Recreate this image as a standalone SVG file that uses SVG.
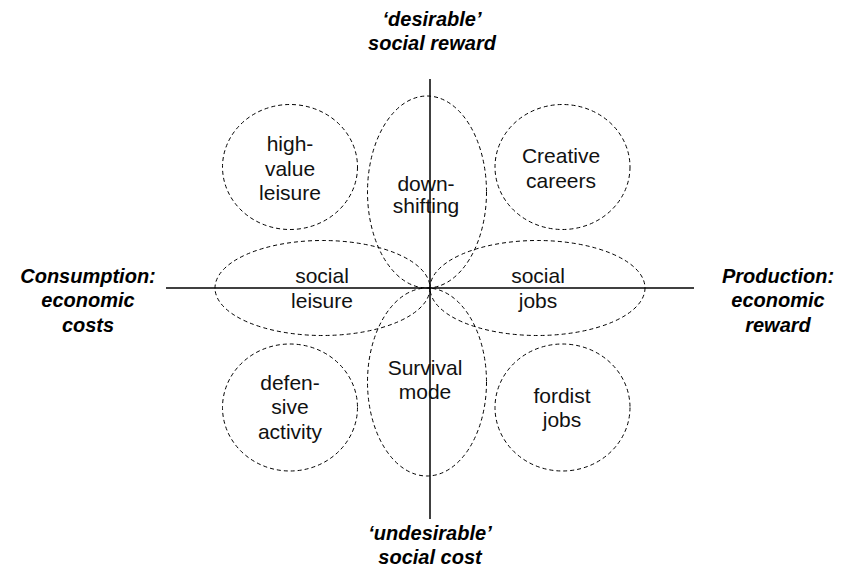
<svg xmlns="http://www.w3.org/2000/svg" width="844" height="570" viewBox="0 0 844 570">
<style>
.bg{fill:#fff}
.axis{stroke:#000;stroke-width:1.5;fill:none}
.d{stroke:#000;stroke-width:1;fill:none;stroke-dasharray:4 3}
.t{font-family:"Liberation Sans",Arial,sans-serif;font-size:21px;fill:#111;text-anchor:middle}
.a{font-family:"Liberation Sans",Arial,sans-serif;font-size:20px;font-weight:bold;font-style:italic;fill:#000;text-anchor:middle}
</style>
<rect class="bg" x="0" y="0" width="844" height="570"/>
<g id="connectors">
<line class="axis" x1="166" y1="288" x2="694" y2="288"/>
<line class="axis" x1="430" y1="79" x2="430" y2="519"/>
</g>
<g id="axis-top"><text class="a" x="432" y="26">‘desirable’</text><text class="a" x="432" y="50">social reward</text></g>
<g id="axis-bottom"><text class="a" x="430" y="540">‘undesirable’</text><text class="a" x="430" y="564">social cost</text></g>
<g id="axis-left"><text class="a" x="88" y="283">Consumption:</text><text class="a" x="88" y="307">economic</text><text class="a" x="88" y="332">costs</text></g>
<g id="axis-right"><text class="a" x="778" y="283">Production:</text><text class="a" x="778" y="307">economic</text><text class="a" x="778" y="332">reward</text></g>
<g id="high-value-leisure"><ellipse class="d" cx="290" cy="167" rx="67.5" ry="62.5"/><text class="t" x="290" y="151">high-</text><text class="t" x="290" y="176">value</text><text class="t" x="290" y="200">leisure</text></g>
<g id="creative-careers"><ellipse class="d" cx="562.5" cy="167" rx="67.5" ry="62.5"/><text class="t" x="561" y="163">Creative</text><text class="t" x="561" y="188">careers</text></g>
<g id="downshifting"><ellipse class="d" cx="427" cy="192" rx="59.5" ry="96"/><text class="t" x="426" y="191">down-</text><text class="t" x="426" y="213">shifting</text></g>
<g id="social-leisure"><ellipse class="d" cx="322.5" cy="288" rx="107.5" ry="47.5"/><text class="t" x="322" y="283">social</text><text class="t" x="322" y="308">leisure</text></g>
<g id="social-jobs"><ellipse class="d" cx="537.5" cy="288" rx="107.5" ry="47.5"/><text class="t" x="538" y="283">social</text><text class="t" x="538" y="308">jobs</text></g>
<g id="survival-mode"><ellipse class="d" cx="427" cy="382" rx="59.5" ry="94"/><text class="t" x="425" y="375">Survival</text><text class="t" x="425" y="399">mode</text></g>
<g id="defensive-activity"><ellipse class="d" cx="290" cy="407.5" rx="67.5" ry="63.5"/><text class="t" x="290" y="390">defen-</text><text class="t" x="290" y="414">sive</text><text class="t" x="290" y="439">activity</text></g>
<g id="fordist-jobs"><ellipse class="d" cx="562.5" cy="407.5" rx="67.5" ry="63.5"/><text class="t" x="562" y="403">fordist</text><text class="t" x="562" y="427">jobs</text></g>
</svg>
